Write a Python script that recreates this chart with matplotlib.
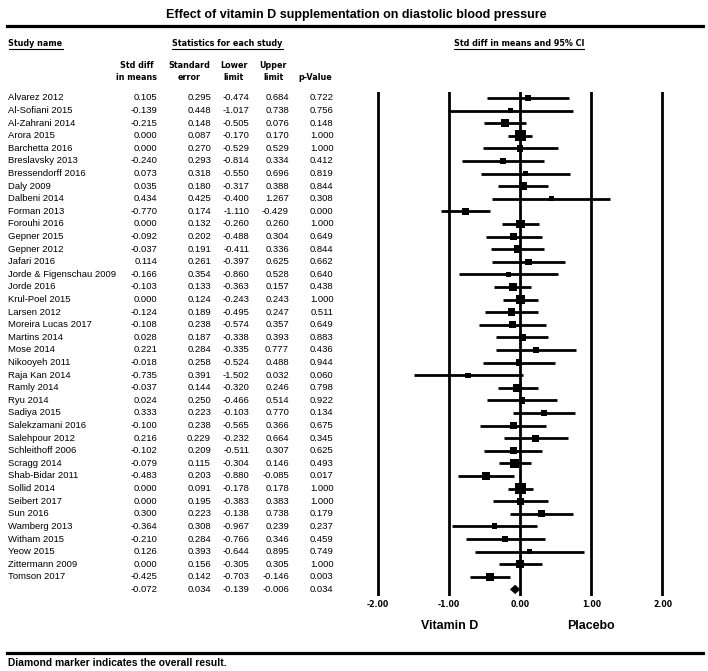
import matplotlib
matplotlib.use("Agg")
import matplotlib.pyplot as plt
from matplotlib.transforms import blended_transform_factory
from matplotlib.lines import Line2D
from matplotlib.patches import Polygon

# ---------------- data ----------------
studies = [
    "Alvarez 2012", "Al-Sofiani 2015", "Al-Zahrani 2014", "Arora 2015", "Barchetta 2016",
    "Breslavsky 2013", "Bressendorff 2016", "Daly 2009", "Dalbeni 2014", "Forman 2013",
    "Forouhi 2016", "Gepner 2015", "Gepner 2012", "Jafari 2016", "Jorde & Figenschau 2009",
    "Jorde 2016", "Krul-Poel 2015", "Larsen 2012", "Moreira Lucas 2017", "Martins 2014",
    "Mose 2014", "Nikooyeh 2011", "Raja Kan 2014", "Ramly 2014", "Ryu 2014",
    "Sadiya 2015", "Salekzamani 2016", "Salehpour 2012", "Schleithoff 2006", "Scragg 2014",
    "Shab-Bidar 2011", "Sollid 2014", "Seibert 2017", "Sun 2016", "Wamberg 2013",
    "Witham 2015", "Yeow 2015", "Zittermann 2009", "Tomson 2017",
]
std_diff = [0.105, -0.139, -0.215, 0.000, 0.000, -0.240, 0.073, 0.035, 0.434, -0.770,
            0.000, -0.092, -0.037, 0.114, -0.166, -0.103, 0.000, -0.124, -0.108, 0.028,
            0.221, -0.018, -0.735, -0.037, 0.024, 0.333, -0.100, 0.216, -0.102, -0.079,
            -0.483, 0.000, 0.000, 0.300, -0.364, -0.210, 0.126, 0.000, -0.425]
std_err = [0.295, 0.448, 0.148, 0.087, 0.270, 0.293, 0.318, 0.180, 0.425, 0.174,
           0.132, 0.202, 0.191, 0.261, 0.354, 0.133, 0.124, 0.189, 0.238, 0.187,
           0.284, 0.258, 0.391, 0.144, 0.250, 0.223, 0.238, 0.229, 0.209, 0.115,
           0.203, 0.091, 0.195, 0.223, 0.308, 0.284, 0.393, 0.156, 0.142]
lower = [-0.474, -1.017, -0.505, -0.170, -0.529, -0.814, -0.550, -0.317, -0.400, -1.110,
         -0.260, -0.488, -0.411, -0.397, -0.860, -0.363, -0.243, -0.495, -0.574, -0.338,
         -0.335, -0.524, -1.502, -0.320, -0.466, -0.103, -0.565, -0.232, -0.511, -0.304,
         -0.880, -0.178, -0.383, -0.138, -0.967, -0.766, -0.644, -0.305, -0.703]
upper = [0.684, 0.738, 0.076, 0.170, 0.529, 0.334, 0.696, 0.388, 1.267, -0.429,
         0.260, 0.304, 0.336, 0.625, 0.528, 0.157, 0.243, 0.247, 0.357, 0.393,
         0.777, 0.488, 0.032, 0.246, 0.514, 0.770, 0.366, 0.664, 0.307, 0.146,
         -0.085, 0.178, 0.383, 0.738, 0.239, 0.346, 0.895, 0.305, -0.146]
p_values = [0.722, 0.756, 0.148, 1.000, 1.000, 0.412, 0.819, 0.844, 0.308, 0.000,
            1.000, 0.649, 0.844, 0.662, 0.640, 0.438, 1.000, 0.511, 0.649, 0.883,
            0.436, 0.944, 0.060, 0.798, 0.922, 0.134, 0.675, 0.345, 0.625, 0.493,
            0.017, 1.000, 1.000, 0.179, 0.237, 0.459, 0.749, 1.000, 0.003]
overall_diff = -0.072
overall_se = 0.034
overall_lower = -0.139
overall_upper = -0.006
overall_p = 0.034

xticks = [-2, -1, 0, 1, 2]
xtick_labels = ["-2.00", "-1.00", "0.00", "1.00", "2.00"]

# ---------------- figure ----------------
W, H = 708, 671
fig = plt.figure(figsize=(W / 100, H / 100), dpi=100)
fig.patch.set_facecolor("white")

def fx(px):
    return px / W

def fy(py):
    return 1 - py / H

ARIAL = "Liberation Sans"
TAHOMA = "DejaVu Sans"

# forest axes
ax_l, ax_r, ax_t, ax_b = 371.0, 669.6, 91.7, 595.7
ax = fig.add_axes([fx(ax_l), fy(ax_b), (ax_r - ax_l) / W, (ax_b - ax_t) / H])
ax.set_xlim(-2.1, 2.1)
n = len(studies)
ax.set_ylim(n + 0.5, -0.5)
for s in ax.spines.values():
    s.set_visible(False)
ax.set_yticks([])
ax.set_xticks(xticks, xtick_labels)
ax.tick_params(axis="x", length=0, pad=3, labelsize=5.6)
for lab in ax.get_xticklabels():
    lab.set_fontweight("bold")
    lab.set_fontfamily(TAHOMA)

for xt in xticks:
    ax.axvline(xt, color="black", lw=2.0, zorder=1)

rows = list(range(n))
ax.hlines(rows, lower, upper, color="black", lw=2.0, zorder=2)
sizes = [(3.24 / se ** 0.5 * 0.72) ** 2 for se in std_err]
ax.scatter(std_diff, rows, s=sizes, marker="s", color="black", linewidths=0, zorder=3)

h = 0.33
diamond = Polygon([(overall_lower, n), (overall_diff, n - h), (overall_upper, n), (overall_diff, n + h)],
                  closed=True, facecolor="black", edgecolor="black", lw=0.5, zorder=4)
ax.add_patch(diamond)

bt = blended_transform_factory(ax.transData, fig.transFigure)
ax.text(-1, fy(626), "Vitamin D", transform=bt, ha="center", va="center",
        fontsize=8.9, fontweight="bold", family=ARIAL)
ax.text(1, fy(626), "Placebo", transform=bt, ha="center", va="center",
        fontsize=8.9, fontweight="bold", family=ARIAL)

# ---------------- table ----------------
tt = blended_transform_factory(fig.transFigure, ax.transData)
col_right = [157.5, 211, 249.5, 289, 333.5]
fs = 6.8
for i in range(n):
    ax.text(fx(8.5), i, studies[i], transform=tt, ha="left", va="center",
            fontsize=fs, family=ARIAL, clip_on=False)
    vals = [std_diff[i], std_err[i], lower[i], upper[i], p_values[i]]
    for xr, v in zip(col_right, vals):
        ax.text(fx(xr), i, f"{v:.3f}", transform=tt, ha="right", va="center",
                fontsize=fs, family=ARIAL, clip_on=False)
for xr, v in zip(col_right, [overall_diff, overall_se, overall_lower, overall_upper, overall_p]):
    ax.text(fx(xr), n, f"{v:.3f}", transform=tt, ha="right", va="center",
            fontsize=fs, family=ARIAL, clip_on=False)

# column headers
hfs = 5.8
col_heads = [("Std diff", "in means", 137), ("Standard", "error", 189.5),
             ("Lower", "limit", 234), ("Upper", "limit", 273.5), ("", "p-Value", 315)]
for l1, l2, xc in col_heads:
    if l1:
        fig.text(fx(xc), fy(65), l1, ha="center", va="center", fontsize=hfs,
                 fontweight="bold", family=TAHOMA)
    fig.text(fx(xc), fy(77.5), l2, ha="center", va="center", fontsize=hfs,
             fontweight="bold", family=TAHOMA)

# section headers (underlined)
sec = [
    fig.text(fx(8.5), fy(43.5), "Study name", ha="left", va="center", fontsize=hfs,
             fontweight="bold", family=TAHOMA),
    fig.text(fx(227.5), fy(43.5), "Statistics for each study", ha="center", va="center",
             fontsize=hfs, fontweight="bold", family=TAHOMA),
    fig.text(fx(519), fy(43.5), "Std diff in means and 95% CI", ha="center", va="center",
             fontsize=hfs, fontweight="bold", family=TAHOMA),
]

# title and rules
fig.text(fx(356), fy(15), "Effect of vitamin D supplementation on diastolic blood pressure",
         ha="center", va="center", fontsize=9, fontweight="bold", family=ARIAL)
fig.add_artist(Line2D([fx(7), fx(703)], [fy(25.5), fy(25.5)], lw=2.3, color="black",
                      transform=fig.transFigure))
fig.add_artist(Line2D([fx(7), fx(703)], [fy(653), fy(653)], lw=2.3, color="black",
                      transform=fig.transFigure))
fig.text(fx(8.5), fy(663.5), "Diamond marker indicates the overall result.",
         ha="left", va="center", fontsize=7.4, fontweight="bold", family=ARIAL)

fig.canvas.draw()
r = fig.canvas.get_renderer()
for t in sec:
    bb = t.get_window_extent(r)
    yy = (bb.y0 - 0.5) / H
    fig.add_artist(Line2D([bb.x0 / W, bb.x1 / W], [yy, yy], lw=0.8, color="black",
                          transform=fig.transFigure))

fig.savefig("out.png", dpi=100, facecolor="white")
